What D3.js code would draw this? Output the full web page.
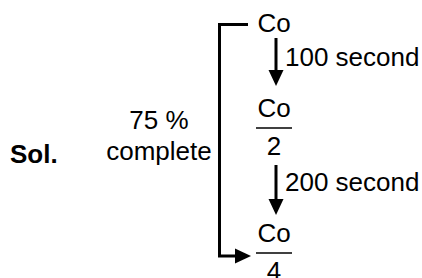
<!DOCTYPE html>
<html>
<head>
<meta charset="utf-8">
<script src="https://cdn.jsdelivr.net/npm/d3@7"></script>
<style>
  html, body { margin: 0; padding: 0; background: #fff; }
  svg { display: block; }
  text { font-family: "Liberation Sans", Arial, sans-serif; fill: #000; }
</style>
</head>
<body>
<div id="chart"></div>
<script>
// ---- data ----
const numerators = ["Co", "Co", "Co"];
const denominators = [null, "2", "4"];
const stepLabels = ["100 second", "200 second"];
const bracketLabel = ["75 %", "complete"];
const prefix = "Sol.";

// ---- layout ----
const W = 422, H = 278;
const svg = d3.select("#chart").append("svg")
  .attr("width", W).attr("height", H);

const fs = 26;
// baseline of each stage's numerator
const stageY = d3.scaleOrdinal().domain([0, 1, 2]).range([32, 117, 242]);
const colX = 274;      // centre of stage column
const arrowX = 276;

// arrowhead helper
function arrowHead(g, x, y, dir, len, half) {
  let pts;
  if (dir === "down") pts = [[x - half, y - len], [x + half, y - len], [x, y]];
  else pts = [[x - len, y - half], [x - len, y + half], [x, y]];
  g.append("path").attr("d", d3.line()(pts) + "Z").attr("fill", "#000");
}

// stages
numerators.forEach((n, i) => {
  const y = stageY(i);
  svg.append("text").attr("x", colX).attr("y", y)
    .attr("text-anchor", "middle").attr("font-size", fs).text(n);
  if (denominators[i]) {
    svg.append("line")
      .attr("x1", colX - 18).attr("x2", colX + 18)
      .attr("y1", y + 11).attr("y2", y + 11)
      .attr("stroke", "#000").attr("stroke-width", 1.6);
    svg.append("text").attr("x", colX).attr("y", y + 38)
      .attr("text-anchor", "middle").attr("font-size", fs).text(denominators[i]);
  }
});

// step arrows
const stepArrow = [{y0: 38, y1: 86}, {y0: 165, y1: 215}];
const stepTextY = [66, 191];
stepLabels.forEach((s, i) => {
  const a = stepArrow[i];
  svg.append("line").attr("x1", arrowX).attr("x2", arrowX)
    .attr("y1", a.y0).attr("y2", a.y1 - 10)
    .attr("stroke", "#000").attr("stroke-width", 3);
  arrowHead(svg, arrowX, a.y1, "down", 16, 7.5);
  svg.append("text").attr("x", 285).attr("y", stepTextY[i])
    .attr("font-size", fs).text(s);
});

// bracket
const bx = 219.5, byTop = 24.5, byBot = 256;
svg.append("path")
  .attr("d", `M248,${byTop} H${bx} V${byBot} H240`)
  .attr("fill", "none").attr("stroke", "#000").attr("stroke-width", 3);
arrowHead(svg, 251, byBot, "right", 16, 7.5);

// bracket label
bracketLabel.forEach((t, i) => {
  svg.append("text").attr("x", 159).attr("y", 129 + i * 31)
    .attr("text-anchor", "middle").attr("font-size", fs).text(t);
});

// prefix
svg.append("text").attr("x", 10).attr("y", 163)
  .attr("font-size", fs).attr("font-weight", "bold").text(prefix);
</script>
</body>
</html>
